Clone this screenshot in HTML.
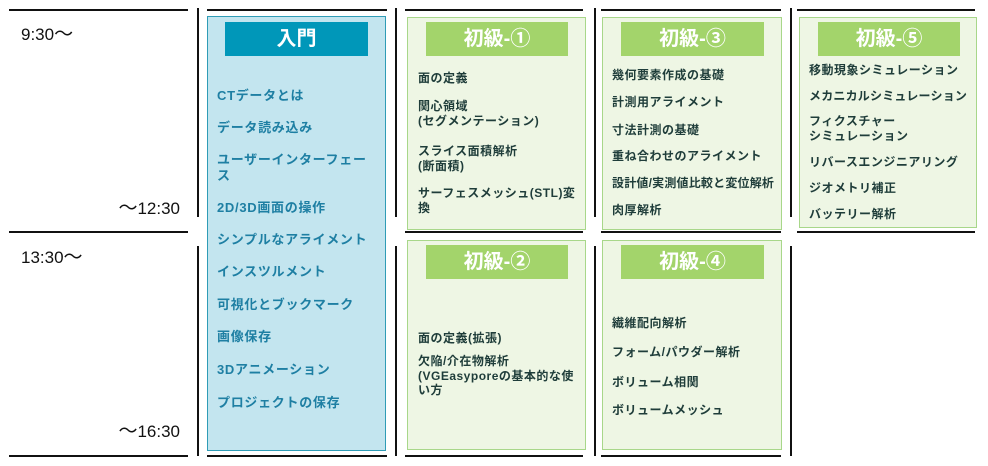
<!DOCTYPE html>
<html><head><meta charset="utf-8"><style>
body{margin:0;width:988px;height:466px;background:#fff;position:relative;overflow:hidden;font-family:"Liberation Sans","Noto Sans CJK JP",sans-serif}
.h{position:absolute;height:2px;background:#111}
.v{position:absolute;width:2px;background:#111}
.t{position:absolute;font-size:17px;color:#111;line-height:17px;white-space:nowrap}
.box{position:absolute;box-sizing:border-box}
.blue{background:#c3e5ef;border:1.5px solid #2f9cb6}
.green{background:#eef6e4;border:1.5px solid #a8d78a}
.hd{position:absolute;color:#fff;font-weight:bold;font-size:20px;text-align:center;line-height:34px;height:34px}
.i{position:absolute;font-weight:bold;font-size:13px;color:#1e7fa3;line-height:16px;white-space:nowrap;letter-spacing:0.7px}
.g{position:absolute;font-weight:bold;font-size:12px;color:#1f3d3a;line-height:14.5px;white-space:nowrap;letter-spacing:0.5px}
</style></head><body>
<div class="h" style="left:9px;top:9px;width:179px"></div>
<div class="h" style="left:9px;top:231px;width:179px"></div>
<div class="h" style="left:9px;top:455px;width:179px"></div>
<div class="h" style="left:207px;top:9px;width:180px"></div>
<div class="h" style="left:207px;top:455px;width:180px"></div>
<div class="h" style="left:405px;top:9px;width:178px"></div>
<div class="h" style="left:405px;top:231px;width:178px"></div>
<div class="h" style="left:405px;top:455px;width:178px"></div>
<div class="h" style="left:601px;top:9px;width:180px"></div>
<div class="h" style="left:601px;top:231px;width:180px"></div>
<div class="h" style="left:601px;top:455px;width:180px"></div>
<div class="h" style="left:797px;top:9px;width:178px"></div>
<div class="h" style="left:797px;top:231px;width:178px"></div>
<div class="v" style="left:197px;top:8px;height:209px"></div>
<div class="v" style="left:197px;top:246px;height:210px"></div>
<div class="v" style="left:395px;top:8px;height:209px"></div>
<div class="v" style="left:395px;top:246px;height:210px"></div>
<div class="v" style="left:594px;top:8px;height:209px"></div>
<div class="v" style="left:594px;top:246px;height:210px"></div>
<div class="v" style="left:790px;top:8px;height:209px"></div>
<div class="v" style="left:790px;top:246px;height:210px"></div>

<div class="t" style="left:21px;top:26px">9:30<span style="font-size:19px">〜</span></div>
<div class="t" style="right:808px;top:200px"><span style="font-size:19px">〜</span>12:30</div>
<div class="t" style="left:21px;top:249px">13:30<span style="font-size:19px">〜</span></div>
<div class="t" style="right:808px;top:423px"><span style="font-size:19px">〜</span>16:30</div>

<div class="box blue" style="left:207px;top:16px;width:179px;height:435px"></div>
<div class="hd" style="left:225px;top:22px;width:143px;background:#0097b9">入門</div>
<div class="i" style="left:217px;top:88px">CTデータとは</div>
<div class="i" style="left:217px;top:120px">データ読み込み</div>
<div class="i" style="left:217px;top:152px">ユーザーインターフェー<br>ス</div>
<div class="i" style="left:217px;top:200px">2D/3D画面の操作</div>
<div class="i" style="left:217px;top:232px">シンプルなアライメント</div>
<div class="i" style="left:217px;top:264px">インスツルメント</div>
<div class="i" style="left:217px;top:297px">可視化とブックマーク</div>
<div class="i" style="left:217px;top:329px">画像保存</div>
<div class="i" style="left:217px;top:362px">3Dアニメーション</div>
<div class="i" style="left:217px;top:395px">プロジェクトの保存</div>

<div class="box green" style="left:407px;top:17px;width:179px;height:213px"></div>
<div class="hd" style="left:426px;top:22px;width:142px;background:#a3d46b">初級-①</div>
<div class="g" style="left:418px;top:71px">面の定義</div>
<div class="g" style="left:418px;top:99px">関心領域<br>(セグメンテーション)</div>
<div class="g" style="left:418px;top:144px">スライス面積解析<br>(断面積)</div>
<div class="g" style="left:418px;top:186px">サーフェスメッシュ(STL)変<br>換</div>

<div class="box green" style="left:602px;top:17px;width:180px;height:213px"></div>
<div class="hd" style="left:621px;top:22px;width:143px;background:#a3d46b">初級-③</div>
<div class="g" style="left:612px;top:68px">幾何要素作成の基礎</div>
<div class="g" style="left:612px;top:95px">計測用アライメント</div>
<div class="g" style="left:612px;top:123px">寸法計測の基礎</div>
<div class="g" style="left:612px;top:149px">重ね合わせのアライメント</div>
<div class="g" style="left:612px;top:176px;letter-spacing:0.2px">設計値/実測値比較と変位解析</div>
<div class="g" style="left:612px;top:203px">肉厚解析</div>

<div class="box green" style="left:799px;top:17px;width:178px;height:211px"></div>
<div class="hd" style="left:818px;top:22px;width:142px;background:#a3d46b">初級-⑤</div>
<div class="g" style="left:809px;top:63px">移動現象シミュレーション</div>
<div class="g" style="left:809px;top:89px;letter-spacing:0.2px">メカニカルシミュレーション</div>
<div class="g" style="left:809px;top:114px">フィクスチャー<br>シミュレーション</div>
<div class="g" style="left:809px;top:155px">リバースエンジニアリング</div>
<div class="g" style="left:809px;top:181px">ジオメトリ補正</div>
<div class="g" style="left:809px;top:207px">バッテリー解析</div>

<div class="box green" style="left:407px;top:240px;width:179px;height:210px"></div>
<div class="hd" style="left:426px;top:245px;width:142px;background:#a3d46b">初級-②</div>
<div class="g" style="left:418px;top:331px">面の定義(拡張)</div>
<div class="g" style="left:418px;top:354px">欠陥/介在物解析<br>(VGEasyporeの基本的な使<br>い方</div>

<div class="box green" style="left:602px;top:240px;width:180px;height:210px"></div>
<div class="hd" style="left:621px;top:245px;width:143px;background:#a3d46b">初級-④</div>
<div class="g" style="left:612px;top:316px">繊維配向解析</div>
<div class="g" style="left:612px;top:345px">フォーム/パウダー解析</div>
<div class="g" style="left:612px;top:375px">ボリューム相関</div>
<div class="g" style="left:612px;top:403px">ボリュームメッシュ</div>
</body></html>
